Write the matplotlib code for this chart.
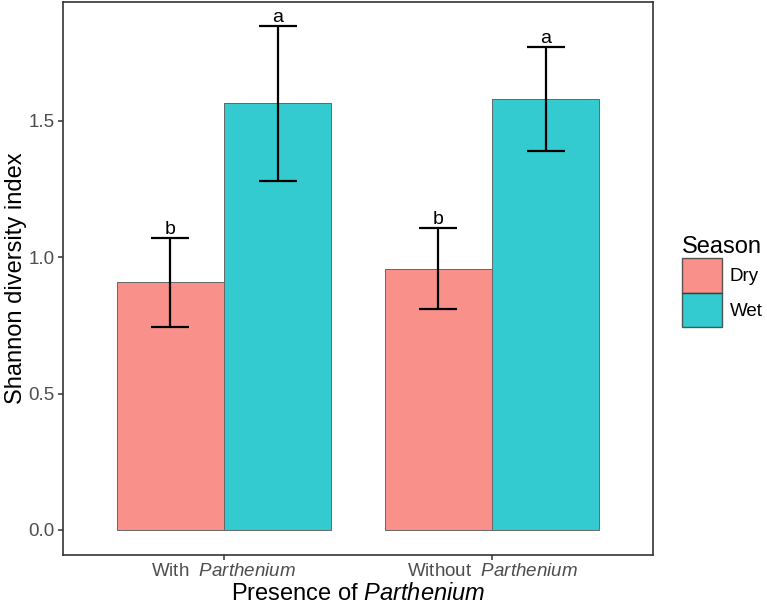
import matplotlib
matplotlib.use("Agg")
import matplotlib.pyplot as plt
from matplotlib.patches import Patch
import numpy as np

plt.rcParams['font.family'] = ['Liberation Sans', 'DejaVu Sans']
plt.rcParams['mathtext.fontset'] = 'custom'
plt.rcParams['mathtext.rm'] = 'Liberation Sans'
plt.rcParams['mathtext.it'] = 'Liberation Sans:italic'

# values
groups = ["With  $\\it{Parthenium}$", "Without  $\\it{Parthenium}$"]
seasons = ["Dry", "Wet"]
dry_mean = [0.909, 0.957]
wet_mean = [1.566, 1.580]
dry_low = [0.744, 0.810]
dry_high = [1.071, 1.107]
wet_low = [1.280, 1.390]
wet_high = [1.848, 1.771]
dry_letters = ["b", "b"]
wet_letters = ["a", "a"]

colors = {"Dry": "#F8766D", "Wet": "#00BFC4"}

fig = plt.figure(figsize=(7.67, 6.06), dpi=100)
ax = fig.add_axes([0.0821, 0.0842, 0.7693, 0.9125])

x = np.arange(len(groups))
width = 0.4

series = [
    ("Dry", dry_mean, dry_low, dry_high, dry_letters, -width / 2),
    ("Wet", wet_mean, wet_low, wet_high, wet_letters, width / 2),
]

for name, mean, low, high, letters, offset in series:
    xs = x + offset
    ax.bar(xs, mean, width=width, color=colors[name], alpha=0.8,
           edgecolor='none', zorder=2)
    ax.bar(xs, mean, width=width, fill=False, edgecolor='#666666',
           linewidth=0.7, zorder=3)
    mean = np.array(mean)
    err = [mean - np.array(low), np.array(high) - mean]
    ax.errorbar(xs, mean, yerr=err, fmt='none', ecolor='black',
                elinewidth=1.6, capsize=13.5, capthick=1.6, zorder=4)
    for xi, hi, lab in zip(xs, high, letters):
        ax.text(xi, hi, lab, ha='center', va='bottom', fontsize=14,
                color='black')

ax.set_xlim(-0.6, 1.6)
ax.set_ylim(-0.0917, 1.936)
ax.set_xticks(x)
ax.set_xticklabels(groups)
ax.set_yticks([0, 0.5, 1.0, 1.5])
ax.set_yticklabels(["0.0", "0.5", "1.0", "1.5"])
ax.tick_params(axis='both', labelsize=13.5, labelcolor='#4D4D4D',
               color='#333333', length=3.6, width=1.1, pad=2.5)

for s in ax.spines.values():
    s.set_color('#333333')
    s.set_linewidth(1.2)

ax.set_xlabel("Presence of $\\it{Parthenium}$", fontsize=17, labelpad=2)
ax.set_ylabel("Shannon diversity index", fontsize=17, labelpad=1)

handles = [Patch(facecolor=colors[s], alpha=0.8, edgecolor='#333333',
                 linewidth=1.0, label=s) for s in seasons]
leg = fig.legend(handles=handles, title="Season", loc='upper left',
                 bbox_to_anchor=(0.889, 0.61), frameon=False,
                 fontsize=13.5, title_fontsize=17, handlelength=2.15,
                 handleheight=2.45, labelspacing=0.0, handletextpad=0.4,
                 borderpad=0, borderaxespad=0, alignment='left')
for h in leg.legend_handles:
    h.set_edgecolor('#333333')

fig.savefig("out.png", dpi=100)
